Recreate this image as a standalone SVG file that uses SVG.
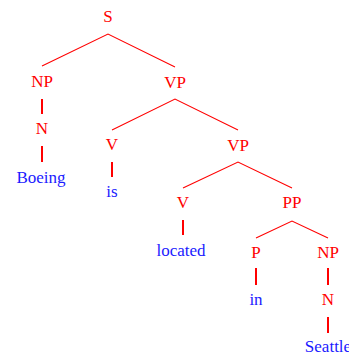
<svg xmlns="http://www.w3.org/2000/svg" width="349" height="352" viewBox="0 0 349 352">
<style>
.cat{font-family:"Liberation Serif","DejaVu Serif",serif;font-size:17px;fill:#ff0000;text-anchor:middle}
.word{font-family:"Liberation Serif","DejaVu Serif",serif;font-size:17px;fill:#1a1aff;text-anchor:middle}
.edge{stroke:#ff0000;stroke-width:1.1;fill:none}
.stem{stroke:#ff0000;stroke-width:2;fill:none}
</style>
<rect width="349" height="352" fill="#ffffff"/>
<g id="connectors">
<path class="edge" d="M42,66 L108,34 L175,67"/>
<path class="edge" d="M112,130 L175,99 L238,130"/>
<path class="edge" d="M183,188 L238,162 L292,188"/>
<path class="edge" d="M256,238 L292,221 L328,238"/>
<line class="stem" x1="42" y1="99" x2="42" y2="114"/>
<line class="stem" x1="42" y1="146" x2="42" y2="162"/>
<line class="stem" x1="112" y1="162" x2="112" y2="177"/>
<line class="stem" x1="183" y1="220" x2="183" y2="235"/>
<line class="stem" x1="256" y1="268" x2="256" y2="285"/>
<line class="stem" x1="328" y1="268" x2="328" y2="285"/>
<line class="stem" x1="328" y1="317" x2="328" y2="333"/>
</g>
<g id="S"><text class="cat" x="108" y="22">S</text></g>
<g id="NP1"><text class="cat" x="42" y="87">NP</text></g>
<g id="N1"><text class="cat" x="42" y="134">N</text></g>
<g id="Boeing"><text class="word" x="41" y="183">Boeing</text></g>
<g id="VP1"><text class="cat" x="175" y="88">VP</text></g>
<g id="V1"><text class="cat" x="112" y="150">V</text></g>
<g id="is"><text class="word" x="112" y="197">is</text></g>
<g id="VP2"><text class="cat" x="238" y="151">VP</text></g>
<g id="V2"><text class="cat" x="183" y="208">V</text></g>
<g id="located"><text class="word" x="181" y="256">located</text></g>
<g id="PP"><text class="cat" x="292" y="208">PP</text></g>
<g id="P"><text class="cat" x="256" y="258">P</text></g>
<g id="in"><text class="word" x="256" y="305">in</text></g>
<g id="NP2"><text class="cat" x="328" y="258">NP</text></g>
<g id="N2"><text class="cat" x="328" y="305">N</text></g>
<g id="Seattle"><text class="word" x="328" y="352">Seattle</text></g>
</svg>
